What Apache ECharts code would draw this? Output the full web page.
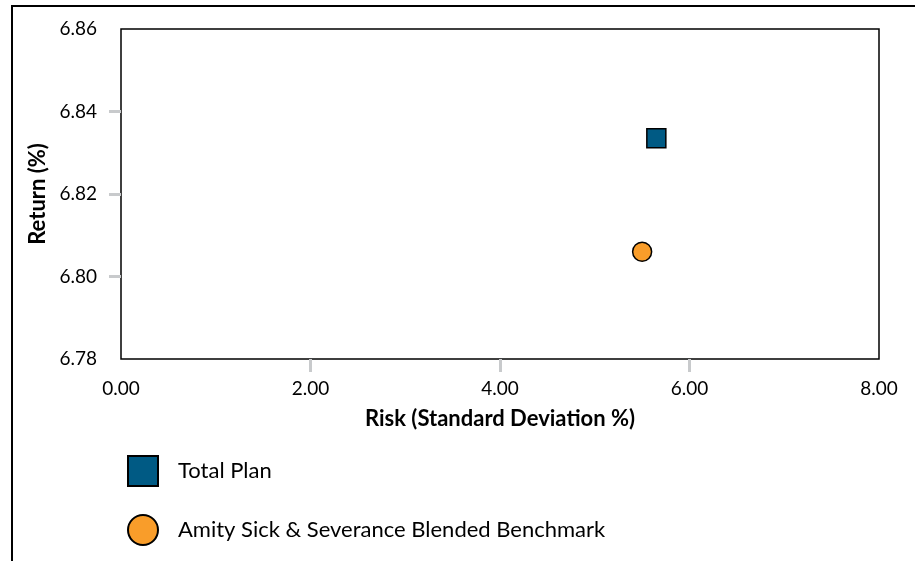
<!DOCTYPE html>
<html>
<head>
<meta charset="utf-8">
<script src="https://cdn.jsdelivr.net/npm/echarts@6/dist/echarts.min.js"></script>
<style>
html,body{margin:0;padding:0;background:#fff;}
#chart{width:915px;height:561px;}
</style>
</head>
<body>
<div id="chart"></div>
<script>
const seriesNames = ['Total Plan', 'Amity Sick & Severance Blended Benchmark'];
const riskValues = [5.65, 5.50];
const returnValues = [6.8335, 6.806];
const seriesColors = ['#005A84', '#F99D2A'];
const seriesSymbols = ['rect', 'circle'];
const xTickValues = [2, 4, 6];
const yTickValues = [6.80, 6.82, 6.84];
const xTitle = 'Risk (Standard Deviation %)';
const yTitle = 'Return (%)';

const FONT = 'Lato';
const chart = echarts.init(document.getElementById('chart'), null, {renderer: 'canvas'});

const series = seriesNames.map((name, i) => ({
  name: name,
  type: 'scatter',
  symbol: seriesSymbols[i],
  symbolSize: 19,
  data: [[riskValues[i], returnValues[i]]],
  itemStyle: {color: seriesColors[i], borderColor: '#000', borderWidth: 1.5, opacity: 1},
  emphasis: {disabled: true}
}));

chart.setOption({
  animation: false,
  graphic: [{
    type: 'rect',
    shape: {x: 12, y: 6, width: 1000, height: 1000},
    style: {fill: 'none', stroke: '#000', lineWidth: 2},
    silent: true
  }],
  grid: {left: 121, right: 36, top: 29, bottom: 202, show: true, borderColor: '#000', borderWidth: 1.5, backgroundColor: '#fff'},
  legend: {
    orient: 'vertical', left: 127, top: 455, padding: 0, itemWidth: 30, itemHeight: 30, itemGap: 27,
    itemStyle: {borderWidth: 2, borderColor: '#000'},
    textStyle: {fontFamily: FONT, fontSize: 22, color: '#000', padding: [0, 0, 0, 15]},
    data: seriesNames.map((n, i) => ({name: n, icon: seriesSymbols[i]}))
  },
  xAxis: {
    type: 'value', min: 0, max: 8, interval: 2,
    name: xTitle, nameLocation: 'middle', nameGap: 49,
    nameTextStyle: {fontFamily: FONT, fontSize: 22, fontWeight: 'bold', color: '#000'},
    axisLine: {show: false},
    axisTick: {show: true, length: 13, customValues: xTickValues, lineStyle: {color: '#c8cacc', width: 3}},
    axisLabel: {fontFamily: FONT, fontSize: 19, color: '#000', margin: 20, formatter: v => v.toFixed(2)},
    splitLine: {show: false}
  },
  yAxis: {
    type: 'value', min: 6.78, max: 6.86, interval: 0.02,
    name: yTitle, nameLocation: 'middle', nameGap: 67,
    nameTextStyle: {fontFamily: FONT, fontSize: 22, fontWeight: 'bold', color: '#000'},
    axisLine: {show: false},
    axisTick: {show: true, length: 12, customValues: yTickValues, lineStyle: {color: '#c8cacc', width: 3}},
    axisLabel: {fontFamily: FONT, fontSize: 19, color: '#000', margin: 24, formatter: v => v.toFixed(2)},
    splitLine: {show: false}
  },
  series: series
});
</script>
</body>
</html>
